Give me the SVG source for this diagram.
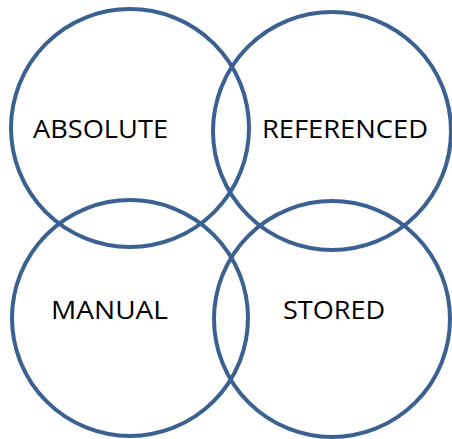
<svg xmlns="http://www.w3.org/2000/svg" width="452" height="439" viewBox="0 0 452 439">
<style>
.c{fill:none;stroke:#3b6191;stroke-width:4}
.t{font-family:"Open Sans","Liberation Sans",Arial,sans-serif;font-size:26px;fill:#000}
</style>
<rect width="452" height="439" fill="#fff"/>
<g id="absolute"><circle class="c" cx="130" cy="128" r="119"/><text class="t" x="33" y="138" textLength="135" lengthAdjust="spacingAndGlyphs">ABSOLUTE</text></g>
<g id="referenced"><circle class="c" cx="332" cy="131" r="119"/><text class="t" x="262" y="138" textLength="166" lengthAdjust="spacingAndGlyphs">REFERENCED</text></g>
<g id="manual"><circle class="c" cx="130" cy="318" r="118"/><text class="t" x="51" y="319" textLength="117" lengthAdjust="spacingAndGlyphs">MANUAL</text></g>
<g id="stored"><circle class="c" cx="332" cy="319" r="118"/><text class="t" x="283" y="319" textLength="102" lengthAdjust="spacingAndGlyphs">STORED</text></g>
<g id="connectors"/>
</svg>
